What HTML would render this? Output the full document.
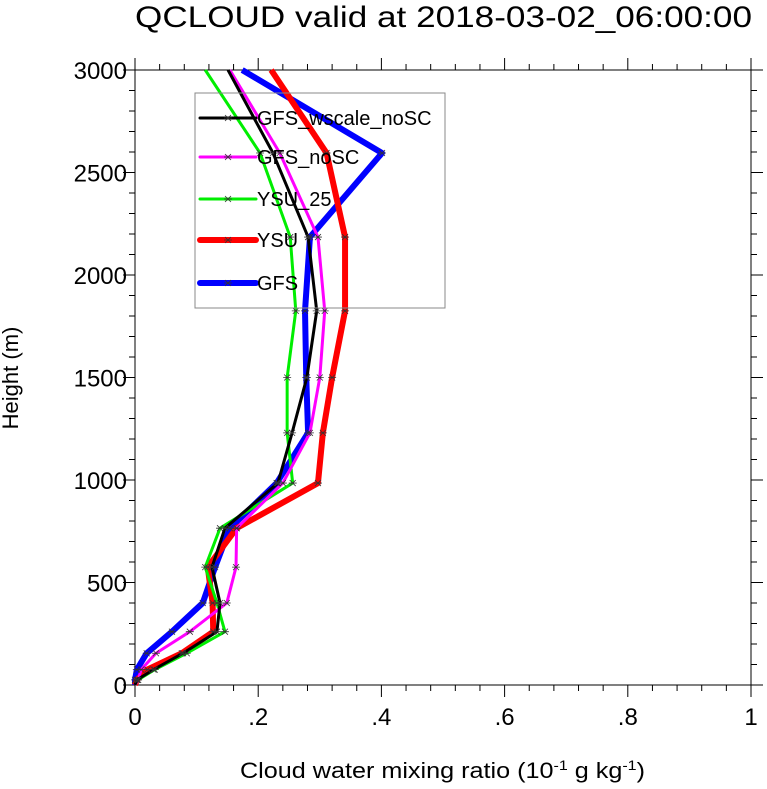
<!DOCTYPE html>
<html><head><meta charset="utf-8"><style>
body{margin:0;background:#fff;}
svg text{font-family:"Liberation Sans",sans-serif;}
</style></head><body>
<svg id="chart" width="767" height="784">
<text x="135" y="27" font-size="30" textLength="617" lengthAdjust="spacingAndGlyphs">QCLOUD valid at 2018-03-02_06:00:00</text>
<g id="axes"></g>
<g id="series"></g>
<g id="legend"></g>
<text transform="translate(18,378) rotate(-90)" font-size="22" text-anchor="middle">Height (m)</text>
<text x="240" y="778" font-size="22" textLength="405" lengthAdjust="spacingAndGlyphs">Cloud water mixing ratio (10<tspan dy="-8" font-size="14">-1</tspan><tspan dy="8"> g kg</tspan><tspan dy="-8" font-size="14">-1</tspan><tspan dy="8">)</tspan></text>
</svg>
<script>
const heights=[0,25,75,155,260,400,575,765,985,1230,1500,1825,2185,2595,3000];
const seriesNames=["GFS_wscale_noSC","GFS_noSC","YSU_25","YSU","GFS"];
const blackVals=[0,0.003,0.03,0.078,0.133,0.138,0.125,0.146,0.232,0.255,0.279,0.295,0.281,0.224,0.151];
const magentaVals=[0,0.005,0.01,0.034,0.089,0.149,0.164,0.165,0.24,0.284,0.3,0.308,0.297,0.235,0.154];
const greenVals=[0,0.005,0.032,0.084,0.146,0.133,0.114,0.138,0.256,0.247,0.247,0.261,0.252,0.203,0.114];
const redVals=[0,0.003,0.02,0.076,0.127,0.126,0.118,0.165,0.297,0.305,0.32,0.341,0.341,0.311,0.221];
const blueVals=[0,0,0.003,0.019,0.06,0.11,0.13,0.154,0.23,0.281,0.278,0.276,0.284,0.401,0.174];
const xTicks=[0,0.2,0.4,0.6,0.8,1];
const xTickLabels=["0",".2",".4",".6",".8","1"];
const yTicks=[0,500,1000,1500,2000,2500,3000];
const NS="http://www.w3.org/2000/svg";
const L=135,R=751,T=70,B=685;
const xs=v=>L+(R-L)*v, ys=h=>B-(B-T)*h/3000;
function mk(t,a,p){const e=document.createElementNS(NS,t);for(const k in a)e.setAttribute(k,a[k]);p.appendChild(e);return e;}
const axes=document.getElementById('axes');
const frame=mk('rect',{x:L,y:T,width:R-L,height:B-T,fill:'none',stroke:'#000','stroke-width':1},axes);


for(let i=0;i<=25;i++){const v=i*0.04,x=xs(v),len=i%5==0?12:6;
 mk('line',{x1:x,y1:B,x2:x,y2:B+len,stroke:'#000'},axes);mk('line',{x1:x,y1:T,x2:x,y2:T-len,stroke:'#000'},axes);}
for(let i=0;i<=30;i++){const h=i*100,y=ys(h),len=i%5==0?12:6;
 mk('line',{x1:L,y1:y,x2:L-len,y2:y,stroke:'#000'},axes);mk('line',{x1:R,y1:y,x2:R+len,y2:y,stroke:'#000'},axes);}
xTicks.forEach((v,i)=>{const t=mk('text',{x:xs(v),y:B+40,'font-size':24,'text-anchor':'middle'},axes);t.textContent=xTickLabels[i];
 
 });
yTicks.forEach(h=>{const t=mk('text',{x:L-8,y:ys(h)+9,'font-size':24,'text-anchor':'end'},axes);t.textContent=h;
 
 });
const styles=[["#000",3],["#ff00ff",3],["#00ee00",3],["#ff0000",6],["#0000ff",6]];
const data=[blackVals,magentaVals,greenVals,redVals,blueVals];
const sg=document.getElementById('series');
function star(x,y,p){mk('path',{d:`M${x-4},${y}H${x+4}M${x-3},${y-3}L${x+3},${y+3}M${x-3},${y+3}L${x+3},${y-3}`,stroke:'#333','stroke-width':0.8},p);}
[4,3,2,1,0].forEach(k=>{const vals=data[k];
 const pl=mk('polyline',{points:vals.map((v,i)=>xs(v)+','+ys(heights[i])).join(' '),fill:'none',stroke:styles[k][0],'stroke-width':styles[k][1],'stroke-linejoin':'round'},sg);
 
 });
data.forEach(vals=>vals.forEach((v,i)=>{if(i>0&&i<heights.length-1)star(xs(v),ys(heights[i]),sg);}));
const lg=document.getElementById('legend');
const box=mk('rect',{x:195,y:93,width:250,height:215,fill:'none',stroke:'#888','stroke-width':1},lg);


const ly=[118,157,199,240,283];
seriesNames.forEach((n,k)=>{const g=mk('g',{},lg);
 
 
 mk('line',{x1:200,y1:ly[k],x2:256,y2:ly[k],stroke:styles[k][0],'stroke-width':styles[k][1],'stroke-linecap':'round'},g);
 star(228,ly[k],g);
 const t=mk('text',{x:257,y:ly[k]+7,'font-size':20},g);t.textContent=n;});
</script>
</body></html>
